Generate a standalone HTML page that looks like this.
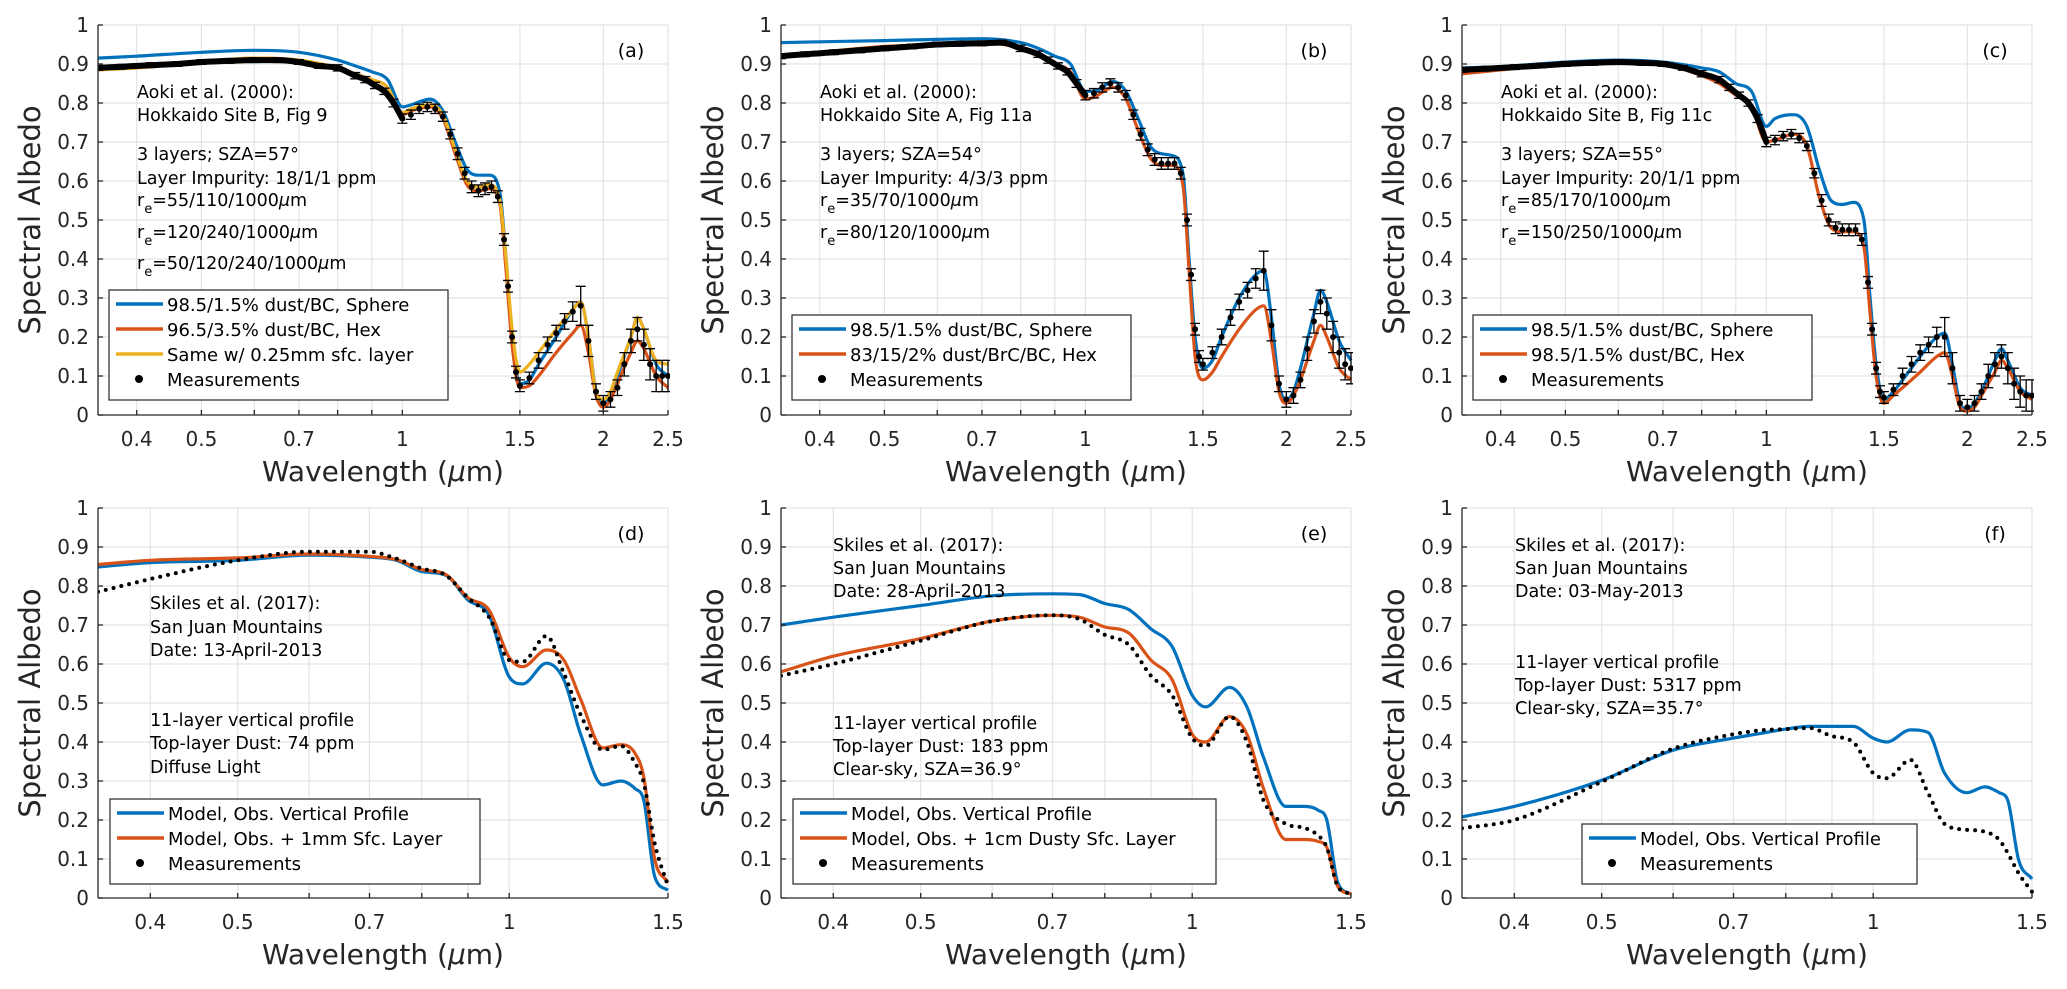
<!DOCTYPE html>
<html><head><meta charset="utf-8">
<style>
html,body{margin:0;padding:0;background:#fff;}
svg{display:block;font-family:"DejaVu Sans","Liberation Sans",sans-serif;}
</style></head>
<body>
<svg id="fig" xmlns="http://www.w3.org/2000/svg" width="2067" height="989" viewBox="0 0 2067 989">
<rect x="0" y="0" width="2067" height="989" fill="#fff"/>
</svg>
<script>
// ---- shared wavelength grids ----
const WT = [0.35,0.4,0.5,0.6,0.7,0.8,0.85,0.9,0.95,1.0,1.03,1.1,1.15,1.2,1.25,1.3,1.35,1.4,1.43,1.46,1.5,1.55,1.6,1.7,1.8,1.85,1.9,1.95,2.0,2.05,2.1,2.2,2.25,2.3,2.4,2.5];
const WM = [0.35,0.38,0.42,0.46,0.5,0.55,0.6,0.65,0.7,0.75,0.8,0.85,0.88,0.91,0.94,0.97,1.0,1.03,1.06,1.09,1.12,1.15,1.18,1.21,1.24,1.27,1.3,1.33,1.36,1.39,1.42,1.44,1.46,1.48,1.5,1.55,1.6,1.65,1.7,1.75,1.8,1.85,1.9,1.95,2.0,2.05,2.1,2.15,2.2,2.25,2.3,2.35,2.4,2.45,2.5];
const WB = [0.35,0.4,0.5,0.6,0.7,0.75,0.8,0.85,0.9,0.95,1.0,1.035,1.1,1.15,1.2,1.27,1.33,1.38,1.41,1.45,1.5];
const ERRM = [0.006,0.006,0.006,0.006,0.006,0.006,0.006,0.006,0.006,0.006,0.008,0.008,0.008,0.008,0.008,0.01,0.012,0.012,0.012,0.012,0.012,0.012,0.012,0.015,0.015,0.015,0.015,0.015,0.015,0.015,0.015,0.015,0.015,0.015,0.015,0.015,0.02,0.02,0.02,0.02,0.025,0.05,0.04,0.02,0.02,0.02,0.02,0.03,0.03,0.03,0.04,0.04,0.04,0.04,0.04];

// ---- panel (a) ----
const aSphere = [.915,.92,.93,.935,.93,.91,.895,.88,.86,.79,.795,.81,.78,.70,.63,.615,.615,.57,.4,.2,.08,.09,.13,.2,.27,.29,.2,.06,.03,.05,.1,.2,.25,.22,.13,.1];
const aHex = [.885,.89,.905,.915,.91,.89,.875,.86,.84,.77,.78,.79,.76,.67,.59,.575,.58,.54,.37,.18,.07,.075,.1,.16,.21,.23,.16,.05,.02,.04,.08,.16,.19,.17,.1,.07];
const aSfc = [.885,.89,.905,.915,.91,.89,.875,.86,.84,.775,.785,.795,.77,.68,.6,.585,.59,.55,.4,.22,.11,.13,.16,.22,.27,.29,.2,.06,.04,.06,.11,.2,.25,.22,.14,.13];
const aMeas = [.89,.893,.897,.90,.905,.908,.91,.91,.905,.895,.89,.87,.86,.845,.83,.80,.76,.77,.785,.79,.785,.765,.72,.67,.62,.585,.575,.58,.585,.56,.45,.33,.2,.11,.075,.095,.14,.18,.21,.24,.265,.28,.19,.06,.03,.04,.07,.13,.19,.22,.18,.13,.1,.1,.1];
// ---- panel (b) ----
const bSphere = [.955,.957,.96,.963,.965,.955,.94,.92,.9,.83,.83,.855,.83,.76,.69,.67,.665,.62,.4,.2,.12,.14,.2,.3,.36,.37,.25,.08,.04,.06,.12,.26,.32,.29,.19,.14];
const bHex = [.92,.93,.945,.95,.955,.94,.92,.9,.88,.81,.815,.84,.81,.73,.66,.64,.64,.59,.37,.15,.09,.11,.15,.22,.27,.28,.19,.06,.03,.05,.09,.19,.23,.2,.12,.09];
const bMeas = [.92,.925,.93,.935,.94,.945,.95,.952,.953,.955,.94,.925,.91,.895,.88,.85,.82,.825,.84,.85,.84,.82,.77,.72,.68,.655,.645,.645,.645,.62,.5,.36,.22,.15,.13,.16,.2,.25,.29,.32,.35,.37,.23,.08,.04,.05,.09,.17,.24,.29,.26,.2,.16,.13,.12];
// ---- panel (c) ----
const cSphere = [.89,.893,.905,.91,.905,.89,.88,.85,.83,.74,.76,.77,.74,.63,.55,.54,.545,.5,.3,.13,.04,.06,.09,.15,.2,.21,.13,.03,.015,.03,.06,.14,.17,.14,.07,.05];
const cHex = [.875,.885,.9,.905,.9,.87,.85,.82,.79,.7,.705,.72,.69,.56,.48,.47,.47,.43,.26,.1,.03,.05,.07,.11,.15,.16,.1,.02,.01,.02,.05,.11,.14,.12,.06,.04];
const cMeas = [.885,.888,.892,.896,.9,.903,.905,.903,.9,.89,.875,.86,.84,.82,.8,.76,.7,.705,.715,.72,.71,.69,.62,.55,.5,.48,.475,.475,.475,.45,.34,.22,.12,.06,.045,.065,.1,.13,.16,.18,.2,.2,.12,.03,.02,.03,.06,.1,.13,.15,.12,.08,.06,.05,.05];
// ---- panel (d) ----
const dModel = [.849,.86,.866,.879,.874,.866,.837,.828,.764,.725,.567,.549,.602,.559,.42,.29,.30,.28,.25,.055,.02];
const dSfc = [.855,.866,.872,.882,.876,.868,.842,.83,.77,.738,.617,.593,.636,.61,.51,.385,.393,.37,.31,.1,.04];
const dMeas = [.785,.818,.866,.888,.888,.87,.845,.828,.77,.72,.61,.606,.672,.576,.47,.38,.39,.345,.295,.14,.03];
// ---- panel (e) ----
const eModel = [.70,.72,.75,.775,.78,.778,.755,.74,.69,.645,.52,.49,.54,.49,.36,.235,.235,.225,.2,.04,.01];
const eSfc = [.58,.62,.665,.71,.725,.72,.695,.68,.61,.56,.42,.4,.465,.42,.28,.15,.15,.145,.13,.03,.01];
const eMeas = [.57,.6,.66,.71,.725,.715,.675,.65,.57,.52,.41,.39,.465,.4,.25,.19,.18,.16,.13,.03,.01];
// ---- panel (f) ----
const fModel = [.208,.235,.302,.379,.41,.422,.433,.44,.44,.44,.41,.4,.431,.425,.32,.27,.285,.27,.25,.097,.049];
const fMeas = [.179,.2,.298,.383,.42,.43,.433,.436,.415,.4,.32,.307,.354,.27,.19,.175,.17,.149,.115,.063,.016];

const yTicks = [0,0.1,0.2,0.3,0.4,0.5,0.6,0.7,0.8,0.9,1];
const xGridTop = [0.4,0.5,0.6,0.7,0.8,0.9,1,1.5,2];
const xLabelTop = [0.4,0.5,0.7,1,1.5,2,2.5];
const xGridBot = [0.4,0.5,0.6,0.7,0.8,0.9,1];
const xLabelBot = [0.4,0.5,0.7,1,1.5];

const BLUE="#0072BD", ORANGE="#D95319", YELLOW="#EDB120";
const NS="http://www.w3.org/2000/svg";
const svg=document.getElementById('fig');
const PW=570, PH=390, XMIN=0.35;

function mk(tag, attrs, parent){
  const e=document.createElementNS(NS,tag);
  for(const k in attrs) e.setAttribute(k,attrs[k]);
  (parent||svg).appendChild(e);
  return e;
}
function monoPath(pts){
  const n=pts.length; if(n<2) return '';
  const dx=[],dy=[],s=[];
  for(let i=0;i<n-1;i++){dx.push(pts[i+1][0]-pts[i][0]);dy.push(pts[i+1][1]-pts[i][1]);s.push(dy[i]/dx[i]);}
  const m=[s[0]];
  for(let i=1;i<n-1;i++){ m.push(s[i-1]*s[i]<=0?0:(s[i-1]+s[i])/2); }
  m.push(s[n-2]);
  for(let i=0;i<n-1;i++){
    if(s[i]===0){m[i]=0;m[i+1]=0;continue;}
    const a=m[i]/s[i], b=m[i+1]/s[i], h=a*a+b*b;
    if(h>9){const t=3/Math.sqrt(h); m[i]=t*a*s[i]; m[i+1]=t*b*s[i];}
  }
  let d='M'+pts[0][0].toFixed(1)+','+pts[0][1].toFixed(1);
  for(let i=0;i<n-1;i++){
    const h=dx[i]/3;
    d+=' C'+(pts[i][0]+h).toFixed(1)+','+(pts[i][1]+m[i]*h).toFixed(1)+' '+(pts[i+1][0]-h).toFixed(1)+','+(pts[i+1][1]-m[i+1]*h).toFixed(1)+' '+pts[i+1][0].toFixed(1)+','+pts[i+1][1].toFixed(1);
  }
  return d;
}

function panel(cfg){
  const L=cfg.left, T=cfg.top, B=T+PH, R=L+PW;
  const lnR=Math.log(cfg.xmax/XMIN);
  const X=w=>L+Math.log(w/XMIN)/lnR*PW;
  const Y=v=>B-v*PH;
  const g=mk('g',{});
  
  
  // grid
  const grid=mk('g',{stroke:'#e3e3e3','stroke-width':1.2},g);
  
  
  yTicks.forEach(v=>{ if(v>0) mk('line',{x1:L,x2:R,y1:Y(v),y2:Y(v)},grid); });
  cfg.grid.forEach(w=>mk('line',{x1:X(w),x2:X(w),y1:T,y2:B},grid));
  mk('line',{x1:R,x2:R,y1:T,y2:B},grid);
  // series
  const clip='clip-'+cfg.id;
  const cp=mk('clipPath',{id:clip},g); mk('rect',{x:L,y:T-4,width:PW+2,height:PH+8},cp);
  const sg=mk('g',{'clip-path':'url(#'+clip+')'},g);
  cfg.series.forEach(s=>{
    const pts=s.w.map((w,i)=>[X(w),Y(s.v[i])]);
    if(s.type==='line'){
      const p=mk('path',{d:monoPath(pts),fill:'none',stroke:s.color,'stroke-width':3.2,'stroke-linejoin':'round'},sg);
      
      
    } else if(s.type==='dotted'){
      const p=mk('path',{d:monoPath(pts),fill:'none',stroke:'#000','stroke-width':4,'stroke-linecap':'round','stroke-dasharray':'0 8'},sg);
      
      
    } else {
      const mg=mk('g',{},sg);
      
      
      // dense band in visible range
      const vis=pts.filter((p,i)=>s.w[i]<=1.0);
      mk('path',{d:monoPath(vis),fill:'none',stroke:'#000','stroke-width':6},mg);
      s.w.forEach((w,i)=>{
        const x=X(w), y=Y(s.v[i]), e=s.err[i]*PH;
        const eb=mk('path',{d:'M'+x+','+(y-e)+'V'+(y+e)+'M'+(x-5)+','+(y-e)+'h10M'+(x-5)+','+(y+e)+'h10',stroke:'#000','stroke-width':1.3,fill:'none'},mg);
        
        
        const c=mk('circle',{cx:x,cy:y,r:3,fill:'#000'},mg);
        
        
      });
    }
  });
  // axes
  const ax=mk('g',{stroke:'#262626','stroke-width':1.3},g);
  
  
  mk('line',{x1:L,x2:L,y1:T,y2:B},ax);
  mk('line',{x1:L,x2:R,y1:B,y2:B},ax);
  yTicks.forEach(v=>mk('line',{x1:L,x2:L+5,y1:Y(v),y2:Y(v)},ax));
  cfg.grid.concat([cfg.xmax]).forEach(w=>mk('line',{x1:X(w),x2:X(w),y1:B,y2:B-5},ax));
  // tick labels
  yTicks.forEach(v=>{
    const t=mk('text',{x:L-9,y:Y(v)+7,'text-anchor':'end','font-size':20,fill:'#262626'},g);
    t.textContent=String(Math.round(v*10)/10);
    
    
  });
  cfg.labels.forEach(w=>{
    const t=mk('text',{x:X(w),y:B+31,'text-anchor':'middle','font-size':20,fill:'#262626'},g);
    t.textContent=String(w);
    
    
  });
  // axis titles
  const xt=mk('text',{x:L+PW/2,y:B+66,'text-anchor':'middle','font-size':28,fill:'#262626'},g);
  xt.innerHTML='Wavelength (<tspan font-style="italic">μ</tspan>m)';
  
  
  const yt=mk('text',{x:0,y:0,'text-anchor':'middle','font-size':29,fill:'#262626',transform:'translate('+(L-58)+','+(T+PH/2)+') rotate(-90)'},g);
  yt.textContent='Spectral Albedo';
  
  
  // panel letter
  const pl=mk('text',{x:L+533,y:T+32,'text-anchor':'middle','font-size':19,fill:'#000'},g);
  pl.textContent='('+cfg.id+')';
  
  
  // annotations
  cfg.notes.forEach(n=>{
    const t=mk('text',{x:L+cfg.noteX,y:n[0]+6,'font-size':17.5,fill:'#000'},g);
    if(n[2]) t.innerHTML='r<tspan font-size="13" dy="7">e</tspan><tspan dy="-7">='+n[1]+'</tspan><tspan font-style="italic">μ</tspan>m';
    else t.textContent=n[1];
    
    
  });
  // legend
  const lg=cfg.legend, lx=L+lg.dx, n=lg.items.length;
  const ltop=lg.bottom-12-25*n+2;
  const leg=mk('g',{},g);
  
  
  mk('rect',{x:lx,y:ltop,width:lg.w,height:lg.bottom-ltop,fill:'#fff',stroke:'#262626','stroke-width':1.2},leg);
  lg.items.forEach((it,i)=>{
    const cy=ltop+14+25*i;
    const e=mk('g',{},leg);
    
    
    if(it[1]==='dot') mk('circle',{cx:lx+30,cy:cy,r:4,fill:'#000'},e);
    else mk('line',{x1:lx+7,x2:lx+54,y1:cy,y2:cy,stroke:it[1],'stroke-width':3.5},e);
    const t=mk('text',{x:lx+58,y:cy+7,'font-size':18,fill:'#000'},e);
    t.textContent=it[0];
  });
}

const topNotesA=[[92,'Aoki et al. (2000):'],[115,'Hokkaido Site B, Fig 9'],[154,'3 layers; SZA=57°'],[178,'Layer Impurity: 18/1/1 ppm'],[200,'55/110/1000',1],[232,'120/240/1000',1],[263,'50/120/240/1000',1]];
const topNotesB=[[92,'Aoki et al. (2000):'],[115,'Hokkaido Site A, Fig 11a'],[154,'3 layers; SZA=54°'],[178,'Layer Impurity: 4/3/3 ppm'],[200,'35/70/1000',1],[232,'80/120/1000',1]];
const topNotesC=[[92,'Aoki et al. (2000):'],[115,'Hokkaido Site B, Fig 11c'],[154,'3 layers; SZA=55°'],[178,'Layer Impurity: 20/1/1 ppm'],[200,'85/170/1000',1],[232,'150/250/1000',1]];

panel({id:'a',left:98,top:25,xmax:2.5,grid:xGridTop,labels:xLabelTop,noteX:39,notes:topNotesA,
  series:[{type:'line',name:'sphere-line',color:BLUE,w:WT,v:aSphere},{type:'line',name:'hex-line',color:ORANGE,w:WT,v:aHex},{type:'line',name:'surface-layer-line',color:YELLOW,w:WT,v:aSfc},{type:'meas',name:'measurements',w:WM,v:aMeas,err:ERRM}],
  legend:{dx:11,w:339,bottom:400,items:[['98.5/1.5% dust/BC, Sphere',BLUE],['96.5/3.5% dust/BC, Hex',ORANGE],['Same w/ 0.25mm sfc. layer',YELLOW],['Measurements','dot']]}});
panel({id:'b',left:781,top:25,xmax:2.5,grid:xGridTop,labels:xLabelTop,noteX:39,notes:topNotesB,
  series:[{type:'line',name:'sphere-line',color:BLUE,w:WT,v:bSphere},{type:'line',name:'hex-line',color:ORANGE,w:WT,v:bHex},{type:'meas',name:'measurements',w:WM,v:bMeas,err:ERRM}],
  legend:{dx:11,w:339,bottom:400,items:[['98.5/1.5% dust/BC, Sphere',BLUE],['83/15/2% dust/BrC/BC, Hex',ORANGE],['Measurements','dot']]}});
panel({id:'c',left:1462,top:25,xmax:2.5,grid:xGridTop,labels:xLabelTop,noteX:39,notes:topNotesC,
  series:[{type:'line',name:'sphere-line',color:BLUE,w:WT,v:cSphere},{type:'line',name:'hex-line',color:ORANGE,w:WT,v:cHex},{type:'meas',name:'measurements',w:WM,v:cMeas,err:ERRM}],
  legend:{dx:11,w:339,bottom:400,items:[['98.5/1.5% dust/BC, Sphere',BLUE],['98.5/1.5% dust/BC, Hex',ORANGE],['Measurements','dot']]}});
panel({id:'d',left:98,top:508,xmax:1.5,grid:xGridBot,labels:xLabelBot,noteX:52,
  notes:[[603,'Skiles et al. (2017):'],[627,'San Juan Mountains'],[650,'Date: 13-April-2013'],[720,'11-layer vertical profile'],[743,'Top-layer Dust: 74 ppm'],[767,'Diffuse Light']],
  series:[{type:'line',name:'model-line',color:BLUE,w:WB,v:dModel},{type:'line',name:'model-surface-layer-line',color:ORANGE,w:WB,v:dSfc},{type:'dotted',name:'measurements',w:WB,v:dMeas}],
  legend:{dx:12,w:370,bottom:884,items:[['Model, Obs. Vertical Profile',BLUE],['Model, Obs. + 1mm Sfc. Layer',ORANGE],['Measurements','dot']]}});
panel({id:'e',left:781,top:508,xmax:1.5,grid:xGridBot,labels:xLabelBot,noteX:52,
  notes:[[545,'Skiles et al. (2017):'],[568,'San Juan Mountains'],[591,'Date: 28-April-2013'],[723,'11-layer vertical profile'],[746,'Top-layer Dust: 183 ppm'],[769,'Clear-sky, SZA=36.9°']],
  series:[{type:'line',name:'model-line',color:BLUE,w:WB,v:eModel},{type:'line',name:'model-dusty-layer-line',color:ORANGE,w:WB,v:eSfc},{type:'dotted',name:'measurements',w:WB,v:eMeas}],
  legend:{dx:12,w:423,bottom:884,items:[['Model, Obs. Vertical Profile',BLUE],['Model, Obs. + 1cm Dusty Sfc. Layer',ORANGE],['Measurements','dot']]}});
panel({id:'f',left:1462,top:508,xmax:1.5,grid:xGridBot,labels:xLabelBot,noteX:53,
  notes:[[545,'Skiles et al. (2017):'],[568,'San Juan Mountains'],[591,'Date: 03-May-2013'],[662,'11-layer vertical profile'],[685,'Top-layer Dust: 5317 ppm'],[708,'Clear-sky, SZA=35.7°']],
  series:[{type:'line',name:'model-line',color:BLUE,w:WB,v:fModel},{type:'dotted',name:'measurements',w:WB,v:fMeas}],
  legend:{dx:120,w:335,bottom:884,items:[['Model, Obs. Vertical Profile',BLUE],['Measurements','dot']]}});
</script>
</body></html>
